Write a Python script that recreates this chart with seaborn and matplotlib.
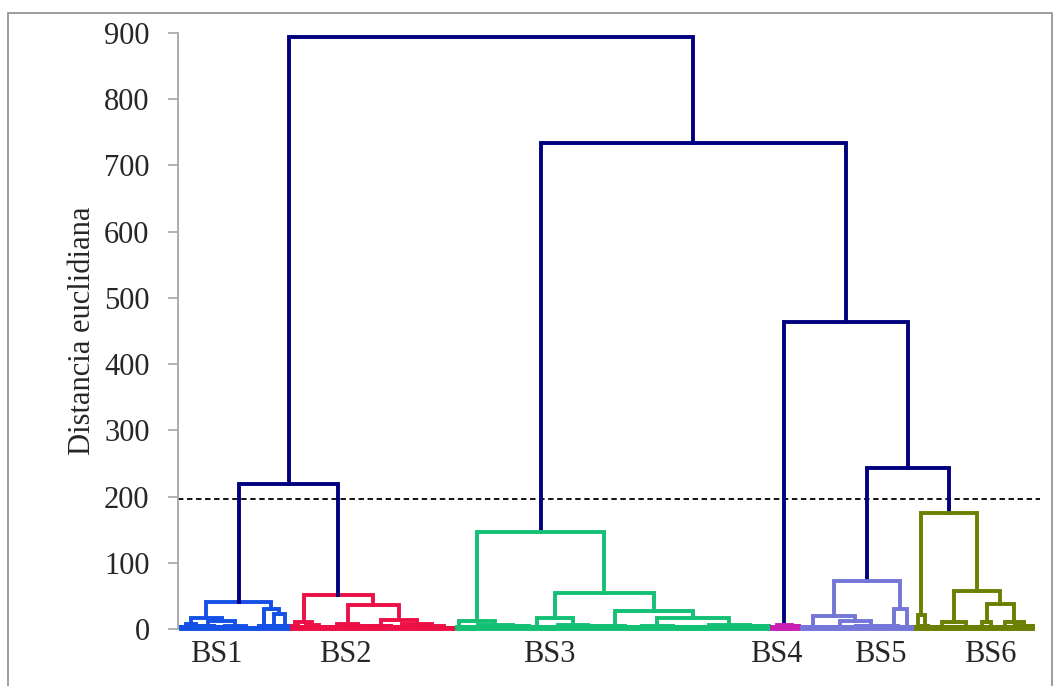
import numpy as np
import pandas as pd
import matplotlib
matplotlib.use("Agg")
import matplotlib.pyplot as plt
from matplotlib.patches import Rectangle
import seaborn as sns

# ---------------- data ----------------
clusters = ["BS1", "BS2", "BS3", "BS4", "BS5", "BS6"]
cluster_colors = ["#1450e6", "#ec1046", "#14c074", "#c81eb4", "#7476d8", "#6b7f00"]
link_color = "#00007e"

# each cluster tree: [merge height, left, right]; (n leaves, height) = low-level tuft
bs1_tree = [41, [16, [8, (4, 3), (3, 4)], [12, (5, 5), [4, (6, 3), (8, 2)]]],
            [30, (4, 4), [22, (3, 5), (4, 4)]]]
bs2_tree = [52, [10, (3, 4), [6, (4, 3), (5, 3)]],
            [36, [7, (7, 3), (7, 4)], [14, (8, 4), [8, (6, 3), [5, (7, 3), (8, 2)]]]]]
bs3_tree = [147, [12.5, (2, 3), [6, (11, 3), (12, 4)]],
            [54, [17, (4, 3), [6, (10, 3), (10, 4)]],
             [27, (8, 4), [17, [5, (10, 3), (11, 3)], [6, (13, 3), (14, 4)]]]]]
bs4_tree = [6, (4, 3), (6, 4)]
bs5_tree = [72, [19, (8, 3), [12, (10, 3), (11, 4)]], [30, (4, 4), (5, 3)]]
bs6_tree = [175, [21, (2, 3), (3, 4)],
            [58, [11, (8, 3), (8, 3)], [37, [10, (3, 3), (3, 3)], [11, (6, 3), (7, 4)]]]]

# merges between clusters (heights)
upper_tree = [894, [219, "BS1", "BS2"], [734, "BS3", [464, "BS4", [243, "BS5", "BS6"]]]]
cut_height = 197

y_ticks = [0, 100, 200, 300, 400, 500, 600, 700, 800, 900]
label_x = [11.7, 54.7, 122.7, 198.3, 233.0, 269.7]   # label positions in leaf units

cluster_trees = dict(zip(clusters, [bs1_tree, bs2_tree, bs3_tree, bs4_tree, bs5_tree, bs6_tree]))

# ---------------- build segments ----------------
rows = []
seg_id = [0]
leaf_pos = [0]


def add_line(xs, ys, grp):
    for x, y in zip(xs, ys):
        rows.append((seg_id[0], x, y, grp))
    seg_id[0] += 1


def layout(node, grp):
    if isinstance(node, tuple):
        n, h = node
        xs = [leaf_pos[0] + k for k in range(n)]
        leaf_pos[0] += n
        for x in xs:
            add_line([x, x], [0, h], grp)
        add_line([xs[0], xs[-1]], [h, h], grp)
        return (xs[0] + xs[-1]) / 2, h
    h, left, right = node
    xl, hl = layout(left, grp)
    xr, hr = layout(right, grp)
    add_line([xl, xl, xr, xr], [hl, h, h, hr], grp)
    return (xl + xr) / 2, h


def layout_upper(node):
    if isinstance(node, str):
        return layout(cluster_trees[node], node)
    h, left, right = node
    xl, hl = layout_upper(left)
    xr, hr = layout_upper(right)
    add_line([xl, xl, xr, xr], [hl, h, h, hr], "link")
    return (xl + xr) / 2, h


layout_upper(upper_tree)
df = pd.DataFrame(rows, columns=["seg", "x", "y", "grp"])
n_leaves = leaf_pos[0]

palette = dict(zip(clusters, cluster_colors))
palette["link"] = link_color

# ---------------- plot ----------------
sns.set_theme(style="white")
plt.rcParams["font.family"] = ["Liberation Serif", "DejaVu Serif"]

fig = plt.figure(figsize=(10.56, 6.86), dpi=100)
ax = fig.add_axes([178 / 1056, 1 - 629 / 686, (1040 - 178) / 1056, (629 - 33) / 686])

sns.lineplot(data=df, x="x", y="y", units="seg", estimator=None, hue="grp",
             palette=palette, sort=False, legend=False, linewidth=2.8, ax=ax)
for ln in ax.lines:
    ln.set_solid_capstyle("projecting")
    ln.set_solid_joinstyle("miter")
    ln.set_clip_on(False)

ax.axhline(cut_height, color="black", lw=1.3, ls=(0, (3, 2)), zorder=1)

ax.set_xlim(-1, n_leaves + 1.3)
ax.set_ylim(0, 900)
ax.set_yticks(y_ticks)
ax.set_yticklabels([str(v) for v in y_ticks], fontsize=22)
ax.set_xticks(label_x)
ax.set_xticklabels(clusters, fontsize=22)
ax.tick_params(axis="x", length=0, pad=8)
ax.tick_params(axis="y", direction="out", length=7.5, width=1.2, color="#a6a6a6",
               pad=13, left=True)
ax.set_xlabel("")
ax.set_ylabel("Distancia euclidiana", fontsize=22, labelpad=5)

for s in ["top", "right", "bottom"]:
    ax.spines[s].set_visible(False)
ax.spines["left"].set_color("#a6a6a6")
ax.spines["left"].set_linewidth(1.3)
ax.grid(False)

fig.add_artist(Rectangle((7.5 / 1056, -0.05), (1052 - 7.5) / 1056, 1 - 13 / 686 + 0.05,
                         transform=fig.transFigure, fill=False, edgecolor="#8c8c8c", lw=1.2))

fig.savefig("out.png", dpi=100)
